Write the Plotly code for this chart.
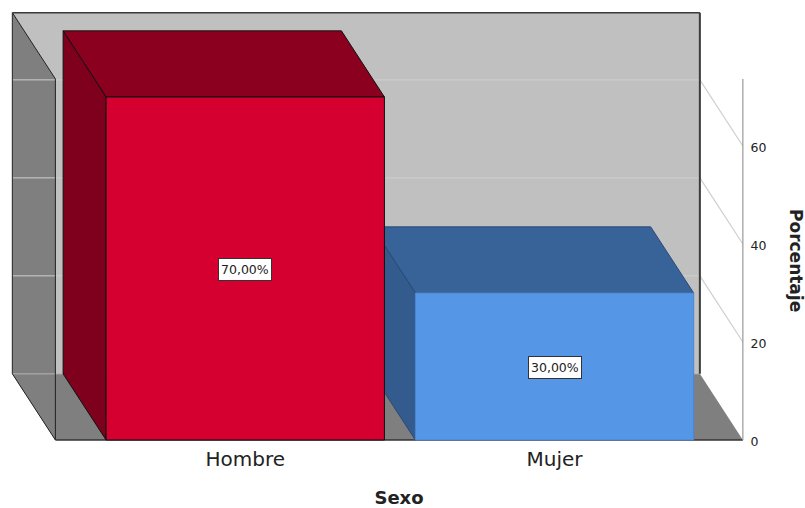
import plotly.graph_objects as go

# Data
categories = ["Hombre", "Mujer"]
percentages = [70.0, 30.0]
y_ticks = [0, 20, 40, 60]
x_title = "Sexo"
y_title = "Porcentaje"

# Style
FONT = "DejaVu Sans"
front_colors = ["#D60030", "#5596E6"]
top_colors = ["#8B001F", "#386399"]
side_colors = ["#7E001C", "#335B8E"]
edge_colors = ["#111111", "#2A4A75"]
front_edges = ["#111111", "#4C86D0"]
WALL = "#C0C0C0"
GREY = "#7F7F7F"
GRID = "#CFCFCF"
FRAME = "#3A3A3A"

# Chart frame in axis units
BAR_W = 0.9
DX, DY = -0.139, 13.5
X_L, X_R = -0.614, 1.609
Y_T = 73.7


def poly(points, fill, line=None, width=1):
    path = "M " + " L ".join(f"{x},{y}" for x, y in points) + " Z"
    return dict(type="path", xref="x", yref="y", path=path, fillcolor=fill,
                line=dict(color=line or fill, width=width if line else 0), layer="below")


def seg(x0, y0, x1, y1, color, width=1):
    return dict(type="line", xref="x", yref="y", x0=x0, y0=y0, x1=x1, y1=y1,
                line=dict(color=color, width=width), layer="below")


shapes = []
# Back wall, floor, left wall
shapes.append(poly([(X_L + DX, DY), (X_R + DX, DY), (X_R + DX, Y_T + DY), (X_L + DX, Y_T + DY)], WALL))
shapes.append(poly([(X_L + DX, DY), (X_R + DX, DY), (X_R, 0), (X_L, 0)], GREY))
shapes.append(poly([(X_L + DX, DY), (X_L, 0), (X_L, Y_T), (X_L + DX, Y_T + DY)], GREY))
# Grid lines on the back wall and across the open side
for t in y_ticks:
    shapes.append(seg(X_L + DX, t + DY, X_R + DX, t + DY, GRID if t else "#B5B5B5", 1))
    if t:
        shapes.append(seg(X_R + DX, t + DY, X_R, t, GRID, 1.2))
# Frame
shapes.append(seg(X_L + DX, Y_T + DY, X_R + DX, Y_T + DY, FRAME, 1.5))
shapes.append(seg(X_R + DX, Y_T + DY, X_R + DX, DY, FRAME, 2))
shapes.append(seg(X_L + DX, Y_T + DY, X_L + DX, DY, FRAME, 1.2))
shapes.append(seg(X_L + DX, Y_T + DY, X_L, Y_T, "#222222", 1))
shapes.append(seg(X_L + DX, DY, X_L, 0, "#222222", 1))
shapes.append(seg(X_L, Y_T, X_L, 0, "#222222", 1))
shapes.append(seg(X_L, 0, X_R, 0, "#333333", 1.5))
shapes.append(seg(X_R, 0, X_R, Y_T, "#999999", 1.2))

# Depth faces of the bars, far bar first
for i in [1, 0]:
    v = percentages[i]
    x0, x1 = i - BAR_W / 2, i + BAR_W / 2
    shapes.append(poly([(x0, v), (x1, v), (x1 + DX, v + DY), (x0 + DX, v + DY)],
                       top_colors[i], edge_colors[i], 1))
    shapes.append(poly([(x0, 0), (x0, v), (x0 + DX, v + DY), (x0 + DX, DY)],
                       side_colors[i], edge_colors[i], 1))

x_pos = list(range(len(categories)))
fig = go.Figure()
for i, v in enumerate(percentages):
    fig.add_trace(go.Bar(x=[x_pos[i]], y=[v], width=BAR_W, name=categories[i],
                         marker=dict(color=front_colors[i], line=dict(color=front_edges[i], width=1)),
                         hoverinfo="skip"))

annotations = [
    dict(x=x_pos[i], y=v / 2, xref="x", yref="y", showarrow=False, yshift=-1,
         text=f"{v:.2f}%".replace(".", ","),
         font=dict(family=FONT, size=12.5, color="#222222"), height=17,
         bgcolor="#FFFFFF", bordercolor="#333333", borderwidth=1, borderpad=2)
    for i, v in enumerate(percentages)
]
annotations.append(dict(x=796 / 805, y=1 - 260 / 508, xref="paper", yref="paper",
                        showarrow=False, text=y_title, textangle=90,
                        xanchor="center", yanchor="middle",
                        font=dict(family=FONT, size=17, color="#222222", weight="bold")))

fig.update_layout(
    width=805, height=508,
    margin=dict(l=0, r=0, t=0, b=0),
    paper_bgcolor="#FFFFFF", plot_bgcolor="rgba(0,0,0,0)",
    showlegend=False, barmode="overlay", hovermode=False,
    shapes=shapes, annotations=annotations,
    font=dict(family=FONT, color="#222222"),
    xaxis=dict(domain=[0, 798 / 805], range=[-0.7931, 1.7873], anchor="free",
               position=68 / 508, tickvals=x_pos, ticktext=categories,
               showgrid=False, zeroline=False, showline=False,
               ticks="outside", ticklen=1, tickcolor="rgba(0,0,0,0)",
               tickfont=dict(family=FONT, size=20, color="#222222"),
               title=dict(text=x_title, standoff=21,
                          font=dict(family=FONT, size=18, color="#222222", weight="bold"))),
    yaxis=dict(domain=[0, 1], range=[-13.88, 89.8], anchor="free", side="right",
               position=743 / 805, tickvals=y_ticks,
               showgrid=False, zeroline=False, showline=False,
               ticks="outside", ticklen=4, tickcolor="rgba(0,0,0,0)",
               ticklabelshift=2,
               tickfont=dict(family=FONT, size=12.5, color="#222222")),
)

fig.write_html("out.html", config=dict(displayModeBar=False),
               post_script="document.body.style.margin='0';document.documentElement.style.overflow='hidden';")
